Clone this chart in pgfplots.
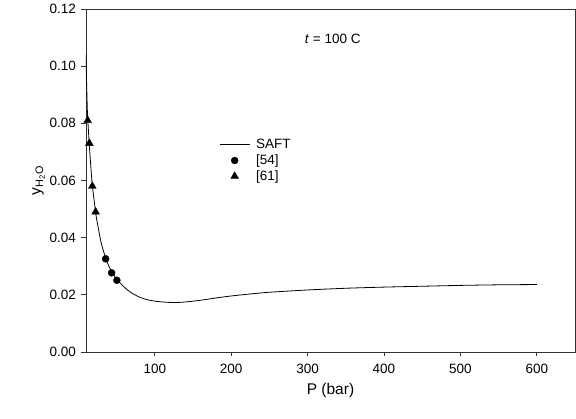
\documentclass[border=0pt]{standalone}
\usepackage{pgfplots}
\pgfplotsset{compat=1.18}
\usepackage{fontspec}
\setmainfont{Liberation Sans}
\begin{document}
\begin{tikzpicture}[font=\fontsize{13.5}{15}\selectfont]
\begin{axis}[
  at={(0,0)}, anchor=south west,
  scale only axis,
  width=489pt, height=343pt,
  xmin=10, xmax=650, ymin=0, ymax=0.12,
  xtick={100,200,300,400,500,600},
  ytick={0,0.02,0.04,0.06,0.08,0.1,0.12},
  yticklabel style={xshift=-2pt, /pgf/number format/fixed, /pgf/number format/fixed zerofill, /pgf/number format/precision=2},
  /pgf/number format/assume math mode=true,
  tick label style={font=\fontsize{13.5}{15}\selectfont},
  xticklabel style={yshift=-4pt},
  label style={font=\fontsize{15.5}{17}\selectfont},
  tick align=outside,
  tick pos=left,
  major tick length=4.5pt,
  axis line style={black!80, line width=0.8pt},
  tick style={black!80, line width=0.8pt},
  xlabel={P (bar)},
  ylabel={y$_{\mathrm{H_2O}}$},
  xlabel style={yshift=-3pt},
  ylabel style={yshift=-2pt},
  legend style={draw=none, fill=none, at={(axis description cs:0.266,0.632)}, anchor=north west, font=\fontsize{13.5}{14}\selectfont, row sep=0.5pt},
  legend image code/.code={\draw[#1] (0pt,0pt) -- (30pt,0pt);},
  legend cell align=left,
]
\addplot[black, line width=0.8pt, smooth, tension=0.4] coordinates {
(10,0.104) (11,0.092) (12,0.083) (14,0.074) (16,0.066) (18,0.059) (20,0.0545)
(23,0.048) (26,0.0435) (30,0.038) (35,0.0335) (40,0.030) (45,0.0275) (50,0.0255)
(60,0.0227) (70,0.0206) (80,0.0192) (90,0.0183) (100,0.0178) (110,0.0175)
(125,0.0173) (140,0.0175) (160,0.0181) (180,0.0189) (200,0.0196) (225,0.0203)
(250,0.0209) (300,0.0217) (350,0.0223) (400,0.0227) (450,0.0230) (500,0.0233)
(550,0.0235) (600,0.0236)
};
\addlegendentry{\hspace{4pt}SAFT}
\addplot[only marks, mark=*, mark size=3.5pt, black,
  legend image code/.code={\draw[mark=*,mark size=3.5pt,black] plot coordinates {(15pt,0pt)};}] coordinates {
(35.7,0.0326) (43.5,0.0277) (50.4,0.0251)
};
\addlegendentry{\hspace{4pt}[54]}
\addplot[only marks, mark=triangle*, mark size=4.5pt, black,
  legend image code/.code={\draw[mark=triangle*,mark size=4.5pt,black] plot coordinates {(15pt,0pt)};}] coordinates {
(12.2,0.081) (14.4,0.073) (18.3,0.058) (22.6,0.049)
};
\addlegendentry{\hspace{4pt}[61]}
\node at (axis cs:333,0.1095) {\textit{t} = 100 C};
\end{axis}
\pgfresetboundingbox
\useasboundingbox (-86pt,-67pt) rectangle (490pt,352pt);
\end{tikzpicture}
\end{document}
